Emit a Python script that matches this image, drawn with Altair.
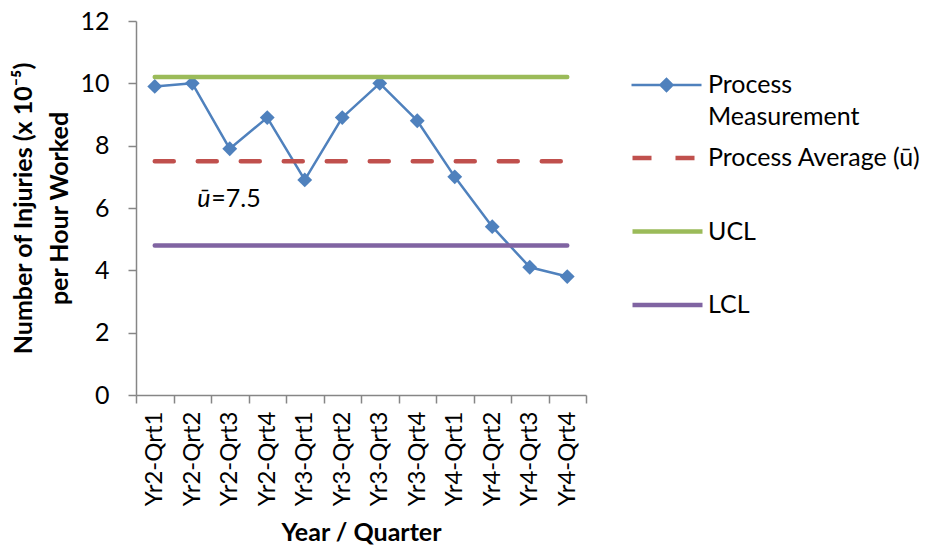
import altair as alt
import pandas as pd

quarters = ["Yr2-Qrt1", "Yr2-Qrt2", "Yr2-Qrt3", "Yr2-Qrt4",
            "Yr3-Qrt1", "Yr3-Qrt2", "Yr3-Qrt3", "Yr3-Qrt4",
            "Yr4-Qrt1", "Yr4-Qrt2", "Yr4-Qrt3", "Yr4-Qrt4"]
measurements = [9.9, 10.0, 7.9, 8.9, 6.9, 8.9, 10.0, 8.8, 7.0, 5.4, 4.1, 3.8]
process_average = 7.5
ucl = 10.2
lcl = 4.8

series_names = ["Process Measurement", "Process Average (ū)", "UCL", "LCL"]
series_colors = ["#4F81BD", "#C0504D", "#9BBB59", "#8064A2"]
series_dashes = [[1, 0], [19, 24], [1, 0], [1, 0]]

annotation_quarter = "Yr2-Qrt2"
annotation_value = 6.3
annotation_symbol = "ū"
annotation_text = "=7.5"

y_ticks = [0, 2, 4, 6, 8, 10, 12]

rows = []
for q, v in zip(quarters, measurements):
    rows.append({"quarter": q, "value": v, "series": series_names[0]})
for name, level in zip(series_names[1:], [process_average, ucl, lcl]):
    for q in quarters:
        rows.append({"quarter": q, "value": level, "series": name})
df = pd.DataFrame(rows)

FONT = "Lato"

x_enc = alt.X("quarter:N", sort=quarters,
              scale=alt.Scale(domain=quarters, paddingInner=0, paddingOuter=0),
              axis=alt.Axis(title="Year / Quarter", labelAngle=-90, tickBand="extent",
                            labelFontSize=24, labelFont=FONT, labelColor="#000000",
                            labelPadding=8,
                            titleFont=FONT, titleFontSize=25, titleFontWeight="bold",
                            titleColor="#000000", titlePadding=15,
                            domainColor="#868686", tickColor="#868686", tickSize=8,
                            domainWidth=1.5, tickWidth=1.5))
y_enc = alt.Y("value:Q",
              scale=alt.Scale(domain=[0, 12], nice=False),
              axis=alt.Axis(title=["Number of Injuries (x 10⁻⁵)", "per Hour Worked"],
                            values=y_ticks, labelFontSize=25, labelFont=FONT,
                            labelColor="#000000", labelPadding=19,
                            titleFont=FONT, titleFontSize=25, titleFontWeight="bold",
                            titleColor="#000000", titleLineHeight=36, titlePadding=7,
                            domainColor="#868686", tickColor="#868686", tickSize=8,
                            domainWidth=1.5, tickWidth=1.5, grid=False))

A = "'Process Average (ū)'"
meas_legend = alt.Legend(
    title=None, orient="none", legendX=494, legendY=27.5,
    symbolSize=4900, symbolStrokeWidth=2.5,
    symbolType="M-1,0L1,0M-0.17,0L0,-0.17L0.17,0L0,0.17Z",
    symbolFillColor=series_colors[0],
    labelFont=FONT, labelFontSize=25, labelColor="#000000", labelOffset=5,
    labelLimit=400, padding=0,
    labelExpr="['Process', 'Measurement']",
)
limit_legend = alt.Legend(
    title=None, orient="none", legendX=494, legendY=99.5,
    symbolSize=4900, symbolStrokeWidth=4.5, symbolType="stroke",
    labelFont=FONT, labelFontSize=25, labelColor="#000000", labelOffset=3,
    labelLimit=400, padding=0, rowPadding=22.5,
    symbolDash={"expr": f"datum.value == {A} ? [24, 19] : [1, 0]"},
)

base = alt.Chart(df)

meas_line = base.transform_filter(alt.datum.series == series_names[0]).mark_line(
    strokeWidth=2.5, strokeJoin="round"
).encode(
    x=x_enc, y=y_enc,
    color=alt.Color("series:N", scale=alt.Scale(domain=series_names[:1], range=series_colors[:1]),
                    legend=meas_legend),
)

meas_points = base.transform_filter(alt.datum.series == series_names[0]).mark_point(
    shape="diamond", filled=True, size=220, opacity=1, color=series_colors[0]
).encode(x=x_enc, y=y_enc)

limit_lines = base.transform_filter(alt.datum.series != series_names[0]).mark_line(
    strokeWidth=4.5, strokeCap="round"
).encode(
    x=x_enc, y=y_enc,
    color=alt.Color("series:N", scale=alt.Scale(domain=series_names[1:], range=series_colors[1:]),
                    legend=limit_legend),
    strokeDash=alt.StrokeDash("series:N",
                              scale=alt.Scale(domain=series_names[1:], range=series_dashes[1:]),
                              legend=limit_legend),
)

ann_df = pd.DataFrame({"quarter": [annotation_quarter], "value": [annotation_value],
                       "sym": [annotation_symbol], "txt": [annotation_text]})
ann_sym = alt.Chart(ann_df).mark_text(
    align="left", baseline="middle", dx=5, font=FONT, fontSize=25, fontStyle="italic",
    color="#000000"
).encode(x=x_enc, y=y_enc, text="sym:N")
ann_txt = alt.Chart(ann_df).mark_text(
    align="left", baseline="middle", dx=19, font=FONT, fontSize=25, color="#000000"
).encode(x=x_enc, y=y_enc, text="txt:N")

chart = alt.layer(meas_line, meas_points, limit_lines, ann_sym, ann_txt).resolve_scale(
    color="independent", strokeDash="independent"
).properties(
    width=450, height=374,
    autosize=alt.AutoSizeParams(type="none"),
    padding={"left": 136, "top": 21, "right": 352, "bottom": 151},
    background="#FFFFFF",
).configure(style={"guide-label": {"lineHeight": 32}},
            view=alt.ViewConfig(stroke=None))

chart.save("out.html", embed_options={"renderer": "svg", "actions": False})
